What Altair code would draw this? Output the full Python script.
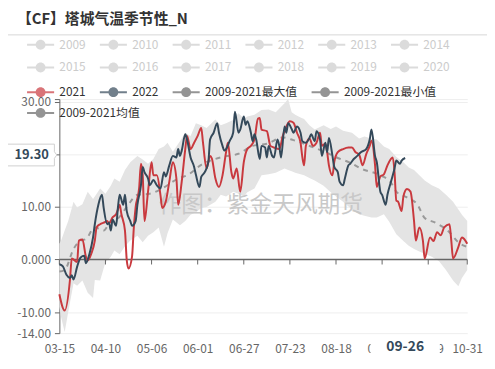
import altair as alt
import pandas as pd

FONT = "Noto Sans CJK SC"
TITLE = "【CF】塔城气温季节性_N"
WATERMARK = "作图：紫金天风期货"

# x values: days since 03-15 (daily category axis 03-15 .. 10-31)
d21 = [0,3,6,7,10,11,13,15,16,18,20,21,23,25,27,28,30,32,33,34,35,37,38,39,41,42,43,45,46,47,
       48,50,52,53,55,57,58,60,62,64,66,67,69,71,72,74,76,78,80,81,83,85,86,88,90,92,94,95,97,98,
       100,102,104,106,108,110,112,113,114,117,119,121,124,126,128,130,132,134,136,137,138,139,141,
       143,145,147,148,150,151,152,154,155,157,160,163,165,167,169,171,173,175,176,178,179,181,183,
       185,188,189,190,191,193,194,196,198,200,201,203,205,206,209,211,213,215,217,220,221,222,225,
       227,228,230]
v21 = [-6.6,-9.7,-3.8,0.2,-0.5,3.6,3.8,0.5,-0.2,1.1,3.6,6.1,6.7,7.0,7.3,6.9,8.0,8.6,9.5,10.4,
       8.6,5.5,-0.1,-1.7,0.6,6.1,9.9,13.6,18.2,16.0,7.3,12.9,18.5,16.0,16.0,12.3,9.8,11.0,14.8,18.5,
       15.4,10.4,14.8,21.0,23.5,21.0,22.2,23.5,25.0,22.2,17.3,19.7,19.2,15.4,13.8,16.0,20.4,22.2,16.6,
       15.4,17.3,12.9,18.5,21.0,21.6,22.8,26.8,26.9,24.7,24.4,21.6,21.3,21.0,23.5,25.3,26.3,26.0,24.1,
       22.2,19.5,17.9,21.6,23.0,21.6,22.2,24.1,21.6,22.0,20.4,17.9,16.0,18.5,20.4,21.0,21.3,21.3,20.4,
       20.0,17.9,20.0,21.6,22.6,18.0,13.8,15.8,16.2,17.9,19.4,16.6,11.2,11.0,9.2,12.0,13.4,12.9,7.3,
       3.6,6.1,3.6,0.2,4.2,3.5,5.2,4.6,6.1,6.7,3.6,0.2,2.4,4.2,4.0,3.0]

d22 = [0,2,4,6,7,8,10,12,14,15,17,19,20,22,24,25,27,28,29,30,32,33,34,36,37,38,40,41,43,44,
       46,47,48,50,51,53,55,57,59,60,62,64,66,67,68,69,71,72,74,76,77,79,80,82,84,85,87,89,90,92,
       93,94,96,98,99,101,102,104,105,106,108,109,110,111,113,114,116,117,118,120,121,123,124,125,
       127,128,129,131,132,134,136,137,139,141,142,144,145,147,148,150,151,152,154,155,157,158,160,
       161,163,164,166,168,170,173,175,176,178,179,181,182,184,185,187,189,190,192,193,195]
v22 = [-0.9,-1.3,-2.9,-3.5,-3.0,-3.8,-1.4,0.4,0.7,-0.7,1.1,4.2,6.7,10.4,12.3,9.8,6.7,7.0,5.5,7.6,
       6.4,9.8,12.3,10.4,12.3,9.2,7.3,6.4,7.3,10.4,14.1,17.6,16.6,15.4,14.1,15.1,14.1,13.5,16.6,15.8,
       17.9,19.7,19.4,21.0,19.7,20.7,23.8,22.8,19.4,17.6,16.1,13.8,15.7,16.6,18.5,22.8,24.1,25.9,24.1,
       21.6,20.7,21.0,22.5,24.1,28.1,24.1,24.7,27.2,25.6,26.3,24.1,22.5,23.8,22.8,19.1,21.6,21.3,19.4,
       21.6,19.7,19.4,22.8,21.6,19.4,25.3,24.1,25.9,24.8,24.1,25.3,24.1,22.5,22.2,23.1,23.8,22.5,24.4,
       22.8,19.7,22.2,20.4,23.1,19.7,17.6,16.6,14.8,14.1,15.4,17.9,18.2,19.1,19.7,20.4,21.0,22.8,24.7,
       19.7,18.5,12.9,12.3,10.4,12.3,14.8,17.3,18.8,18.2,18.8,19.3]

d_mean = [0,3,8,12,15,20,25,29,33,38,44,51,58,67,72,80,92,101,109,117,126,132,141,150,157,164,
          170,181,187,190,196,202,206,212,219,226,230]
v_mean = [-2.3,-2.0,2.0,3.6,3.9,6.1,5.5,7.3,7.8,10.0,12.3,12.5,13.5,15.4,16.0,18.0,19.5,20.1,21.6,
          22.0,23.2,22.7,21.6,20.4,19.3,18.4,17.3,16.0,14.6,12.9,11.8,10.4,7.9,7.0,5.5,3.0,2.4]

d_band = [0,1,3,5,8,10,13,16,19,20,23,26,29,31,34,37,40,44,47,50,53,56,59,61,64,68,71,74,77,80,
          83,88,91,94,98,101,104,106,110,114,118,122,127,129,131,133,136,138,141,144,149,153,156,
          160,165,169,172,176,179,183,186,190,194,197,200,203,206,210,214,218,222,225,227,230]
v_max = [3.0,3.6,5.5,7.3,11.0,9.9,10.5,12.9,11.5,12.0,13.5,12.5,14.0,15.4,14.8,17.0,18.5,19.7,19.0,
         18.2,19.1,21.0,21.5,22.2,20.5,22.5,24.1,23.5,25.9,25.5,25.0,26.6,25.5,25.9,26.5,27.8,26.8,
         27.2,27.5,28.4,28.5,28.0,29.7,30.5,28.0,27.5,27.0,26.7,25.5,24.7,25.5,24.8,25.3,24.5,24.1,
         23.0,23.4,23.0,22.8,21.5,21.0,19.5,18.5,17.5,17.0,16.0,15.0,14.1,13.5,12.3,11.0,9.5,8.5,7.3]
v_min = [-9.0,-11.0,-13.8,-10.0,-4.5,-5.0,-4.0,-6.3,-7.3,-3.9,-4.0,-0.5,0.5,1.7,1.0,2.5,3.6,4.5,3.3,
         4.5,5.2,6.1,2.4,5.0,7.6,6.5,7.3,8.5,9.0,9.8,10.0,11.0,12.3,12.0,12.9,12.5,12.0,12.8,13.5,
         16.0,16.2,16.5,17.3,17.0,16.8,16.5,16.2,16.0,15.5,15.0,14.0,12.8,12.0,11.0,9.5,8.6,8.3,8.0,
         8.0,8.6,7.2,4.8,3.5,2.6,2.0,1.5,1.1,0.5,-0.3,-2.0,-4.0,-5.1,-3.5,-2.0]

legend_off = ["2009","2010","2011","2012","2013","2014","2015","2016","2017","2018","2019","2020"]
legend_on = ["2021","2022","2009-2021最大值","2009-2021最小值"]
legend_mean = ["2009-2021均值"]

x_tick_days = [0, 26, 52, 78, 104, 130, 156, 182, 208, 230]
y_tick_values = [-14, -10, 0, 10, 20, 30, 30.5]
pointer_value = 19.30
pointer_text = "19.30"
pointer_day = 195
pointer_day_text = "09-26"

assert len(d21) == len(v21) and len(d22) == len(v22)
assert len(d_mean) == len(v_mean) and len(d_band) == len(v_max) == len(v_min)

RED = "#c9393e"
NAVY = "#34495a"
GREY = "#666666"
legend_on_colors = [RED, NAVY, GREY, GREY]

LEG_PATH = ("M-2.74,-0.2 L2.74,-0.2 L2.74,0.2 L-2.74,0.2 Z "
            "M1,0 A1,1 0 1,1 -1,0 A1,1 0 1,1 1,0 Z")
YBOX = "M-2.18,-1 L2.18,-1 L2.18,-0.3 L2.4,0 L2.18,0.3 L2.18,1 L-2.18,1 Z"
XBOX = "M-3.9,-1 L3.9,-1 L3.9,1 L-3.9,1 Z"

xscale = alt.Scale(domain=[0, 230], nice=False, zero=False)
yscale = alt.Scale(domain=[-14, 30.5], nice=False, zero=False)
xaxis = alt.Axis(title=None, values=x_tick_days,
                 labelExpr="timeFormat(datetime(2021, 2, 15 + datum.value), '%m-%d')",
                 domain=False, ticks=False, tickSize=0, grid=False, labelPadding=11,
                 labelFont=FONT, labelFontSize=12, labelColor="#666666",
                 labelFlush=False, labelOverlap=False)
yaxis = alt.Axis(title=None, values=y_tick_values,
                 labelExpr=("(datum.value == 20 || datum.value > 30) ? '' : "
                            "(datum.value == 0 ? '0.000' : "
                            "replace(format(datum.value, '.4r'), '\u2212', '-'))"),
                 domain=True, domainColor="#666666", tickColor="#666666", tickSize=5,
                 labelPadding=4, grid=True, gridColor="#eeeeee",
                 labelFont=FONT, labelFontSize=12, labelColor="#666666",
                 labelFlush=False, labelOverlap=False)


def X(field="day"):
    return alt.X(f"{field}:Q", scale=xscale, axis=xaxis)


def Y(field="v"):
    return alt.Y(f"{field}:Q", scale=yscale, axis=yaxis)


def leg(x, y, columns, label_color, **kw):
    return alt.Legend(title=None, orient="none", legendX=x, legendY=y,
                      direction="horizontal", columns=columns, symbolType=LEG_PATH,
                      symbolSize=100, symbolStrokeWidth=0, labelFont=FONT,
                      labelFontSize=12, labelColor=label_color, labelOffset=13,
                      columnPadding=13.7, rowPadding=11, padding=0, **kw)


df21 = pd.DataFrame({"day": d21, "v": v21})
df22 = pd.DataFrame({"day": d22, "v": v22})
dfm = pd.DataFrame({"day": d_mean, "v": v_mean})
dfb = pd.DataFrame({"day": d_band, "vmax": v_max, "vmin": v_min})

band = alt.Chart(dfb).mark_area(color="#e4e4e4", opacity=1).encode(
    x=X(), y=Y("vmax"), y2="vmin:Q")

mean = alt.Chart(dfm).mark_line(color="#9a9a9a", strokeWidth=2, strokeDash=[5, 5],
                                interpolate="monotone").encode(x=X(), y=Y())

watermark = alt.Chart(pd.DataFrame({"t": [WATERMARK]})).mark_text(
    font=FONT, fontSize=23, color="#c8c8c8", align="center", baseline="middle").encode(
    text="t:N", x=alt.value(204), y=alt.value(107))

zero_line = alt.Chart(pd.DataFrame({"v": [0]})).mark_rule(color=GREY, strokeWidth=1.5).encode(y=Y())
zero_ticks = alt.Chart(pd.DataFrame({"day": x_tick_days, "v": [0] * len(x_tick_days),
                                     "v2": [-0.95] * len(x_tick_days)})).mark_rule(
    color=GREY, strokeWidth=1).encode(x=X(), y=Y(), y2="v2:Q")

l21 = alt.Chart(df21).mark_line(color=RED, strokeWidth=2, interpolate="monotone").encode(x=X(), y=Y())
l22 = alt.Chart(df22).mark_line(color=NAVY, strokeWidth=2, interpolate="monotone").encode(x=X(), y=Y())

ybox = alt.Chart(pd.DataFrame({"v": [pointer_value]})).mark_point(
    shape=YBOX, size=484, filled=True, fill="white", stroke="#cfcfcf", strokeWidth=1,
    opacity=1, yOffset=-3).encode(x=alt.value(-29), y=Y())
ytext = alt.Chart(pd.DataFrame({"v": [pointer_value], "t": [pointer_text]})).mark_text(
    font=FONT, fontSize=13, fontWeight="bold", color=NAVY, align="center",
    baseline="middle", yOffset=-3).encode(x=alt.value(-28), y=Y(), text="t:N")

xbox = alt.Chart(pd.DataFrame({"day": [pointer_day]})).mark_point(
    shape=XBOX, size=324, filled=True, fill="white", strokeWidth=0, opacity=1).encode(
    x=X(), y=alt.value(251))
xtext = alt.Chart(pd.DataFrame({"day": [pointer_day], "t": [pointer_day_text]})).mark_text(
    font=FONT, fontSize=14, fontWeight="bold", color=NAVY, align="center",
    baseline="middle").encode(x=X(), y=alt.value(251), text="t:N")

title = alt.Chart(pd.DataFrame({"t": [TITLE]})).mark_text(
    font=FONT, fontSize=15, fontWeight="bold", color="#333333", align="left",
    baseline="middle").encode(text="t:N", x=alt.value(-43), y=alt.value(-81))
sep = alt.Chart(pd.DataFrame({"k": [0]})).mark_rule(color="#d6d6d6", strokeWidth=1).encode(
    x=alt.value(-52), x2=alt.value(433), y=alt.value(-65))

legA_df = pd.DataFrame({"yr": legend_off, "day": [None] * len(legend_off),
                        "v": [None] * len(legend_off)})
legA = alt.Chart(legA_df).mark_point(filled=True).encode(
    x=X(), y=Y(),
    fill=alt.Fill("yr:N", scale=alt.Scale(domain=legend_off, range=["#cccccc"] * len(legend_off)),
                  legend=leg(-25, -61, 6, "#cccccc")))

legB_df = pd.DataFrame({"series": legend_on, "day": [None] * len(legend_on),
                        "v": [None] * len(legend_on)})
legB = alt.Chart(legB_df).mark_point(filled=True).encode(
    x=X(), y=Y(),
    color=alt.Color("series:N", scale=alt.Scale(domain=legend_on, range=legend_on_colors),
                    legend=leg(-25, -13, 4, "#333333")))

legC_df = pd.DataFrame({"m": legend_mean, "day": [None], "v": [None]})
legC = alt.Chart(legC_df).mark_point(filled=True, color=GREY).encode(
    x=X(), y=Y(),
    shape=alt.Shape("m:N", scale=alt.Scale(domain=legend_mean, range=[LEG_PATH]),
                    legend=leg(-25, 8, 1, "#333333", symbolFillColor=GREY)))

chart = alt.layer(
    band, mean, watermark, zero_line, zero_ticks, l21, l22,
    ybox, ytext, xbox, xtext, title, sep, legA, legB, legC
).properties(
    width=413, height=237,
    padding={"left": 52, "top": 90, "right": 20, "bottom": 26},
    autosize=alt.AutoSizeParams(type="none"),
    background="white",
).configure_view(stroke=None)

chart.save("out.html", embed_options={"renderer": "svg", "actions": False})
